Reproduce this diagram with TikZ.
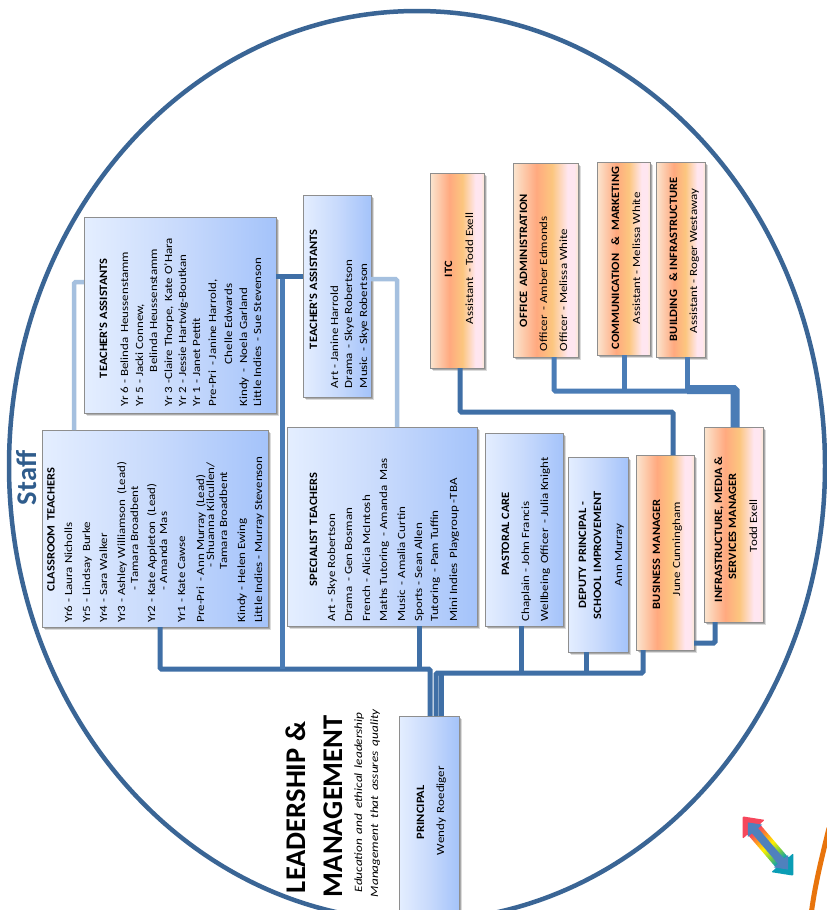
\documentclass[tikz,border=0pt]{standalone}
\usepackage{fontspec}
\setmainfont[FakeStretch=1.18]{Carlito}
\newfontfamily\headfam[FakeStretch=1.11]{Carlito}
\newfontfamily\bigfam{Carlito}
\usetikzlibrary{shadows,calc}
\definecolor{ringblue}{HTML}{3A6595}
\definecolor{linkblue}{HTML}{3F6FA6}
\definecolor{linkmid}{HTML}{4A7CB6}
\definecolor{linkpale}{HTML}{A5C0DF}
\definecolor{staffblue}{HTML}{2F5C8C}
\definecolor{arrowblue}{HTML}{4F81BD}
\definecolor{boxedge}{HTML}{8E8E8E}
\definecolor{curveorange}{HTML}{E8740C}
\definecolor{bA}{HTML}{E4EEFF}\definecolor{bB}{HTML}{C8DAFC}\definecolor{bC}{HTML}{A4C3FA}
\definecolor{oA}{HTML}{FBE6D0}\definecolor{oB}{HTML}{FFA97F}\definecolor{oC}{HTML}{FCC67F}\definecolor{oD}{HTML}{FFE6F0}\definecolor{oE}{HTML}{FBE8D4}
\definecolor{rA}{HTML}{F6475C}\definecolor{rB}{HTML}{FF9A1F}\definecolor{rC}{HTML}{FFF000}\definecolor{rD}{HTML}{7FD13A}\definecolor{rE}{HTML}{0A9DB5}
\pgfdeclarehorizontalshading{bluegrad}{100bp}{color(0bp)=(bA);color(25bp)=(bA);color(50bp)=(bB);color(75bp)=(bC);color(100bp)=(bC)}
\pgfdeclarehorizontalshading{orangegrad}{100bp}{color(0bp)=(oA);color(25bp)=(oA);color(43bp)=(oB);color(55bp)=(oC);color(67bp)=(oD);color(72bp)=(oD);color(75bp)=(oE);color(100bp)=(oE)}
\pgfdeclarehorizontalshading{rainbowgrad}{100bp}{color(0bp)=(rA);color(32bp)=(rA);color(41bp)=(rB);color(50bp)=(rC);color(59bp)=(rD);color(68bp)=(rE);color(100bp)=(rE)}
\tikzset{
 base box/.style={draw=boxedge,line width=1pt,inner sep=0pt,outer sep=0pt,
   drop shadow={shadow xshift=1.5pt,shadow yshift=-1.5pt,fill=black,opacity=.22},
   drop shadow={shadow xshift=3pt,shadow yshift=-2.5pt,fill=black,opacity=.14}},
 bluebox/.style={base box,shade,shading=bluegrad},
 orangebox/.style={base box,shade,shading=orangegrad},
 linkdark/.style={draw=linkblue,line width=5pt,rounded corners=1.5pt},
 linkwide/.style={draw=linkblue,line width=9pt,rounded corners=1.5pt},
 linksoft/.style={draw=linkpale,line width=4.5pt,rounded corners=1.5pt},
 line text/.style={inner sep=0pt,outer sep=0pt,rotate=90,anchor=base west,font=\fontsize{11}{13}\selectfont},
 head text/.style={line text,font=\headfam\fontsize{11.2}{13}\selectfont\bfseries},
 big text/.style={line text,font=\bigfam\fontsize{28.5}{30}\selectfont\bfseries},
 slogan text/.style={line text,font=\fontsize{11.2}{13}\selectfont\itshape},
}
\newcounter{tln}
\newcommand\orgbox[6]{\node[#1,minimum width={(#5-#3)*1pt},minimum height={(#6-#4)*1pt}] (#2) at ({(#3+#5)/2},{(#4+#6)/2}) {};}
\newcommand\tl[4][line text]{\stepcounter{tln}\node[#1] (tl\arabic{tln}) at (#2,#3) {#4};}
\newcommand\hd[3]{\tl[head text]{#1}{#2}{#3}}
\newcommand\dd{\ \kern-.09em\ }
\begin{document}
\begin{tikzpicture}[x=1pt,y=-1pt]
\useasboundingbox (0,0) rectangle (827,910);
\clip (0,0) rectangle (827,910);
\fill[white] (0,0) rectangle (827,910);
\draw[ringblue,line width=4.5pt] (417,466) ellipse [x radius=408pt,y radius=455pt];
% boxes
\orgbox{bluebox}{ta}{84}{217}{276}{413}
\orgbox{bluebox}{cls}{42}{430}{268}{627}
\orgbox{bluebox}{tas}{303}{195}{371}{397}
\orgbox{bluebox}{spec}{287}{427}{477}{626}
\orgbox{bluebox}{past}{485}{433}{563}{626}
\orgbox{bluebox}{dep}{568}{457}{628}{652}
\orgbox{orangebox}{bus}{636}{455}{694}{650}
\orgbox{orangebox}{inf}{704}{427}{763}{622}
\orgbox{orangebox}{itc}{430}{173}{484}{368}
\orgbox{orangebox}{off}{513}{163}{578}{357}
\orgbox{orangebox}{com}{597}{162}{650}{355}
\orgbox{orangebox}{bld}{656}{162}{705}{357}
\orgbox{bluebox}{pri}{399}{716}{459}{925}
% connectors
\coordinate (busL) at (430,669);
\coordinate (busR) at (436,673);
\draw[linksoft] (ta.west |- 0,282) -| (74,0 |- cls.north);
\draw[linksoft] (tas.east |- 0,279) -| (397,0 |- spec.north);
\draw[linkdark] (pri.north -| busL) -- (busL) -| (cls.south -| 160,0);
\draw[linkdark] (pri.north -| busR) -- (busR) -| (bus.south -| 643,0);
\draw[linkdark] (pri.north -| 441.5,0) -- (441.5,673);
\draw[linkdark] (spec.south -| 419,0) -- (419,669);
\draw[linkdark] (past.south -| 521,0) -- (521,673);
\draw[linkdark] (dep.south -| 586,0) -- (586,673);
\draw[linkdark,draw=linkmid] (282,669) -- (282,276);
\draw[linkdark] (ta.east |- 0,276) -- (tas.west |- 0,276);
\draw[linkdark] (bus.east |- 0,643) -| (inf.south -| 715,0);
\draw[linkdark] (bus.north -| 673,0) |- (460,412) -- (itc.south -| 460,0);
\draw[linkdark,draw=linkmid] (off.south -| 554,0) |- (735,391);
\draw[linkdark,draw=linkmid] (com.south -| 624,0) -- (624,391);
\draw[linkdark,draw=linkmid] (bld.south -| 687,0) -- (687,391);
\draw[linkwide,draw=linkmid] (687,389.5) -| (inf.north -| 735,0);
% classroom
\hd{54.5}{591}{CLASSROOM\dd TEACHERS}
\tl{72}{622.5}{Yr6 - Laura Nicholls}
\tl{90}{622.5}{Yr5 - Lindsay\dd Burke}
\tl{107}{622.5}{Yr4 - Sara Walker}
\tl{125}{622.5}{Yr3 - Ashley Williamson\dd (Lead)}
\tl{138}{590}{- Tamara Broadbent}
\tl{155}{622.5}{Yr2 - Kate Appleton\dd (Lead)}
\tl{167}{590}{- Amanda\dd Mas}
\tl{185}{622.5}{Yr1 - Kate Cawse}
\tl{204}{622.5}{Pre-Pri\dd - Ann Murray\dd (Lead)}
\tl{214}{567}{- Shuanna Kilcullen/}
\tl{227}{569}{Tamara Broadbent}
\tl{245}{622.5}{Kindy - Helen Ewing}
\tl{262}{622.5}{Little Indies - Murray Stevenson}
% assistants
\hd{107}{378}{TEACHER'S ASSISTANTS}
\tl{128}{406.5}{Yr 6 - Belinda\dd Heussenstamm}
\tl{143}{406.5}{Yr 5 - Jacki Connew,}
\tl{157}{372}{Belinda Heussenstamm}
\tl{172}{406.5}{Yr 3 -Claire Thorpe,\dd Kate O'Hara}
\tl{186}{406.5}{Yr 2 - Jessie Hartwig-Boutkan}
\tl{200}{406.5}{Yr 1 - Janet Pettit}
\tl{216}{406.5}{Pre-Pri\dd - Janine Harrold,}
\tl{232}{364}{Chelle Edwards}
\tl{247}{406.5}{Kindy\dd -\dd Noela Garland}
\tl{261}{406.5}{Little Indies\dd - Sue Stevenson}
% small assistants
\hd{317}{349}{TEACHER'S ASSISTANTS}
\tl{338}{388}{Art - Janine Harrold}
\tl{352}{388}{Drama\dd - Skye Robertson}
\tl{367}{388}{Music\dd - Skye Robertson}
% specialist
\hd{317}{586}{SPECIALIST\dd TEACHERS}
\tl{335}{621.5}{Art - Skye Robertson}
\tl{352}{621.5}{Drama\dd - Gen Bosman}
\tl{370}{621.5}{French - Alicia McIntosh}
\tl{387}{621.5}{Maths Tutoring\dd - Amanda\dd Mas}
\tl{405}{621.5}{Music\dd - Amalia Curtin}
\tl{422}{621.5}{Sports - Sean Allen}
\tl{438}{621.5}{Tutoring\dd - Pam Tuffin}
\tl{457}{621.5}{Mini Indies\dd Playgroup -TBA}
% pastoral
\hd{509}{575}{PASTORAL CARE}
\tl{529}{621.5}{Chaplain - John Francis}
\tl{548}{621.5}{Wellbeing\dd Officer\dd - Julia Knight}
% deputy
\hd{586}{608}{DEPUTY\dd PRINCIPAL -}
\hd{601}{619}{SCHOOL\dd IMPROVEMENT}
\tl{622}{586}{Ann Murray}
% business
\hd{660}{609}{BUSINESS\dd MANAGER}
\tl{680}{596}{June Cunningham}
% infrastructure
\hd{722}{602}{INFRASTRUCTURE, MEDIA \&}
\hd{736}{579}{SERVICES MANAGER}
\tl{757}{552}{Todd Exell}
% itc
\hd{452}{277}{ITC}
\tl{473}{324}{Assistant\dd - Todd Exell}
% office
\hd{527}{327}{OFFICE\dd ADMINISTRATION}
\tl{547}{351}{Officer\dd - Amber Edmonds}
\tl{567}{351}{Officer\dd - Melissa White}
% comm
\hd{619}{349}{COMMUNICATION\ \ \ \&\ \ MARKETING}
\tl{640}{324}{Assistant - Melissa White}
% building
\hd{677}{341}{BUILDING\ \ \ \& INFRASTRUCTURE}
\tl{697}{333}{Assistant - Roger Westaway}
% principal
\hd{424}{839}{PRINCIPAL}
\tl{444}{855}{Wendy\dd Roediger}
% headings
\tl[big text]{305}{893}{LEADERSHIP \&}
\tl[big text]{342}{897}{MANAGEMENT}
\tl[slogan text]{362}{892}{Education\dd and\dd ethical\dd leadership}
\tl[slogan text]{378}{897}{Management\ \ that\dd assures\dd quality}
\tl[big text,text=staffblue]{36}{505}{Staff}
% rainbow arrow
\shade[shading=rainbowgrad,shading angle=-49,rounded corners=1pt]
 (742.65,816.36) -- (764.72,819.85) -- (759.78,824.08) -- (788.38,857.52) -- (793.32,853.29) -- (793.35,875.64) -- (771.28,872.15) -- (776.22,867.92) -- (747.62,834.48) -- (742.68,838.71) -- cycle;
\fill[arrowblue] (747.85,822.44) -- (762.22,824.62) -- (758.04,828.2) -- (784.04,858.6) -- (788.22,855.02) -- (788.15,869.56) -- (773.78,867.38) -- (777.96,863.8) -- (751.96,833.4) -- (747.78,836.98) -- cycle;
\draw[curveorange,line width=5pt] (829,828) .. controls (820,865) and (815,885) .. (811,915);
\end{tikzpicture}
\end{document}
